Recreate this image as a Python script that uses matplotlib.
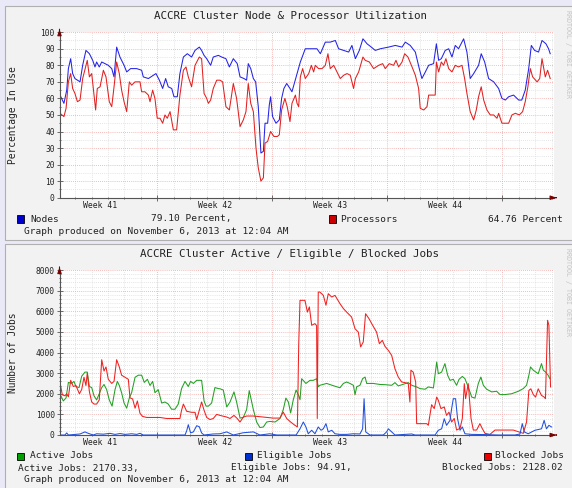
import matplotlib
matplotlib.use("Agg")
import matplotlib.pyplot as plt
import matplotlib.transforms as mtransforms
from matplotlib.patches import Rectangle
import numpy as np

W, H = 572, 488
plt.rcParams["font.family"] = ["DejaVu Sans Mono"]

# ---- time axis (days since start of graph) ----
week_numbers = [41, 42, 43, 44]
week_start = 5.95   # first week boundary, in days
x_end = 30.07

# ---- panel 1: node & processor utilization (percent) ----
node_days = [0.03, 0.27, 0.44, 0.54, 0.68, 0.80, 0.94, 1.25, 1.41, 1.61, 1.82, 2.02, 2.16, 2.26,
             2.42, 2.57, 2.77, 2.97, 3.18, 3.32, 3.48, 3.68, 3.93, 4.09, 4.33, 4.70, 5.00, 5.10,
             5.41, 5.71, 5.87, 6.08, 6.28, 6.46, 6.62, 6.83, 6.97, 7.17, 7.33, 7.54, 7.78, 8.04,
             8.25, 8.51, 8.65, 8.80, 8.96, 9.20, 9.36, 9.67, 9.87, 10.13, 10.34, 10.58, 10.82,
             10.99, 11.23, 11.39, 11.49, 11.64, 11.80, 11.94, 12.10, 12.26, 12.41, 12.51, 12.67,
             12.77, 12.85, 12.97, 13.18, 13.38, 13.52, 13.66, 13.83, 14.03, 14.15, 14.46, 14.66,
             14.96, 15.27, 15.67, 15.88, 16.18, 16.48, 16.79, 16.99, 17.30, 17.60, 17.80, 18.01,
             18.25, 18.47, 18.72, 18.98, 19.22, 19.53, 20.03, 20.44, 20.85, 21.05, 21.35, 21.66,
             21.90, 22.06, 22.27, 22.47, 22.77, 22.94, 23.08, 23.24, 23.48, 23.69, 23.89, 24.09,
             24.29, 24.60, 24.80, 25.00, 25.21, 25.51, 25.67, 25.88, 26.12, 26.43, 26.73, 26.93,
             27.14, 27.34, 27.64, 27.95, 28.14, 28.35, 28.56, 28.72, 28.92, 29.16, 29.37, 29.61,
             29.77, 29.87]
node_pct = [62, 57, 65, 78, 84, 75, 72, 70, 80, 89, 87, 83, 79, 82,
            79, 82, 81, 80, 78, 73, 91, 85, 80, 76, 78, 78, 77, 73,
            72, 74, 75, 71, 66, 72, 67, 66, 61, 61, 75, 85, 87, 85,
            89, 91, 89, 86, 84, 80, 85, 86, 85, 84, 79, 84, 81,
            73, 72, 71, 81, 78, 72, 70, 55, 27, 28, 45, 45,
            56, 61, 49, 45, 47, 60, 66, 69, 66, 64, 75, 82,
            90, 90, 90, 87, 94, 94, 95, 90, 89, 88, 92, 84,
            89, 96, 93, 91, 89, 90, 91, 92, 91, 94, 92, 88,
            78, 72, 76, 80, 81, 93, 83, 84, 89, 90, 85, 92,
            90, 96, 88, 72, 75, 80, 87, 82, 72, 70, 66, 60,
            59, 61, 62, 59, 59, 65, 78, 92, 89, 88, 95, 93,
            90, 87]

proc_days = [0.03, 0.27, 0.40, 0.54, 0.68, 0.80, 0.94, 1.09, 1.25, 1.41, 1.61, 1.69, 1.82, 1.96,
             2.10, 2.20, 2.30, 2.47, 2.67, 2.83, 3.03, 3.18, 3.32, 3.48, 3.64, 3.78, 3.93, 4.09,
             4.25, 4.39, 4.60, 4.90, 5.00, 5.20, 5.41, 5.51, 5.67, 5.81, 5.95, 6.12, 6.28, 6.42,
             6.56, 6.73, 6.93, 7.13, 7.33, 7.54, 7.70, 7.84, 8.04, 8.25, 8.51, 8.65, 8.80, 8.96,
             9.06, 9.20, 9.36, 9.57, 9.77, 9.93, 10.13, 10.34, 10.58, 10.78, 10.99, 11.19, 11.35,
             11.49, 11.64, 11.80, 11.96, 12.10, 12.26, 12.41, 12.51, 12.67, 12.85, 13.05, 13.26,
             13.38, 13.52, 13.72, 13.86, 14.03, 14.15, 14.36, 14.46, 14.56, 14.66, 14.80, 14.96,
             15.17, 15.33, 15.47, 15.57, 15.77, 15.98, 16.18, 16.34, 16.48, 16.69, 16.89, 17.09,
             17.30, 17.50, 17.70, 17.90, 18.01, 18.21, 18.47, 18.61, 18.86, 19.12, 19.43, 19.67,
             19.83, 20.07, 20.34, 20.48, 20.64, 20.85, 21.01, 21.21, 21.46, 21.66, 21.86, 21.96,
             22.17, 22.37, 22.47, 22.67, 22.87, 22.94, 23.08, 23.24, 23.38, 23.52, 23.69, 23.89,
             24.09, 24.29, 24.50, 24.66, 24.80, 25.00, 25.21, 25.37, 25.51, 25.67, 25.82, 26.02,
             26.22, 26.43, 26.63, 26.73, 26.93, 27.14, 27.34, 27.54, 27.75, 27.99, 28.19, 28.35,
             28.51, 28.66, 28.80, 29.07, 29.23, 29.37, 29.57, 29.71, 29.87]
proc_pct = [51, 49, 54, 70, 75, 66, 63, 58, 59, 72, 80, 83, 73, 75,
            62, 53, 66, 67, 77, 73, 58, 55, 67, 82, 75, 65, 58, 52,
            70, 68, 70, 70, 64, 64, 62, 58, 65, 60, 48, 48, 45, 50,
            48, 52, 41, 41, 62, 77, 79, 73, 67, 80, 85, 84, 63, 60,
            57, 59, 66, 71, 71, 70, 55, 53, 69, 60, 43, 47, 52,
            69, 57, 52, 30, 18, 10, 12, 33, 34, 40, 37, 37,
            38, 53, 60, 55, 46, 57, 62, 57, 55, 73, 78, 72,
            75, 80, 76, 80, 78, 78, 80, 87, 78, 80, 76, 72,
            74, 75, 74, 66, 72, 76, 85, 83, 82, 78, 80, 81,
            78, 81, 80, 83, 79, 82, 87, 85, 79, 74, 66, 54,
            53, 55, 62, 62, 62, 82, 76, 82, 80, 84, 78, 76,
            80, 79, 80, 72, 63, 52, 47, 53, 61, 67, 59, 53,
            50, 50, 48, 51, 45, 45, 45, 50, 51, 50, 52, 58,
            67, 78, 73, 70, 72, 84, 73, 77, 72]

# ---- panel 2: active / eligible / blocked jobs ----
active_days = [0.03, 0.23, 0.40, 0.54, 0.74, 0.88, 1.00, 1.19, 1.35, 1.55, 1.69, 1.82, 1.96, 2.10,
               2.26, 2.42, 2.57, 2.71, 2.87, 3.03, 3.20, 3.38, 3.52, 3.64, 3.78, 3.93, 4.09, 4.25,
               4.39, 4.60, 4.80, 5.00, 5.16, 5.35, 5.51, 5.67, 5.81, 6.01, 6.22, 6.42, 6.62, 6.82,
               7.03, 7.23, 7.43, 7.64, 7.84, 7.98, 8.15, 8.35, 8.65, 8.80, 8.92, 9.06, 9.26, 9.46,
               9.67, 9.77, 9.97, 10.18, 10.38, 10.62, 10.78, 10.99, 11.19, 11.39, 11.55, 11.80,
               12.00, 12.20, 12.41, 12.61, 12.81, 13.12, 13.42, 13.62, 13.78, 13.93, 14.07, 14.23,
               14.40, 14.54, 14.64, 14.74, 15.00, 15.25, 15.45, 15.65, 15.75, 15.85, 16.26, 16.67,
               17.07, 17.28, 17.48, 17.68, 17.89, 17.99, 18.09, 18.29, 18.45, 18.60, 18.70, 19.10,
               19.51, 19.81, 20.22, 20.42, 20.62, 21.03, 21.23, 21.44, 21.74, 21.94, 22.25, 22.45,
               22.76, 22.96, 23.06, 23.26, 23.46, 23.63, 23.77, 23.97, 24.17, 24.32, 24.52, 24.68,
               24.88, 25.09, 25.29, 25.49, 25.65, 25.80, 26.00, 26.31, 26.61, 26.81, 27.12, 27.52,
               27.93, 28.23, 28.43, 28.57, 28.67, 28.84, 29.14, 29.34, 29.45, 29.59, 29.75, 29.85]
active_jobs = [2000, 1650, 1800, 2550, 2500, 2600, 2350, 2300, 2850, 3050, 3050, 2350, 2300, 1900,
               1700, 2000, 2300, 2450, 2200, 1700, 1400, 2200, 2600, 2400, 2050, 1550, 1300, 1800,
               2050, 2800, 2900, 2900, 2550, 2700, 2400, 2600, 2050, 2200, 1550, 1600, 1500, 1250,
               1250, 1500, 2250, 2600, 2350, 2600, 2500, 2650, 2650, 1650, 1400, 1400, 1550, 2300,
               2250, 2240, 2180, 1360, 1600, 2090, 1600, 820, 860, 1230, 2150, 1230,
               630, 360, 390, 630, 660, 630, 800, 1230, 1790, 1600, 1070, 1710,
               2180, 1950, 1710, 2730, 2500, 2650, 2650, 2730, 2340, 2410, 2500, 2390,
               2290, 2500, 2570, 2500, 2410, 1950, 2340, 2410, 2730, 2810, 2500, 2500,
               2450, 2440, 2410, 2540, 2380, 2490, 2540, 2410, 2330, 2250, 2220, 2330,
               2280, 3540, 2970, 3050, 3460, 2890, 2650, 2700, 2410, 2700, 2840, 2730,
               2330, 1840, 1790, 2490, 2810, 2410, 2220, 2090, 2120, 1960, 1960, 2000,
               2120, 2250, 2410, 2890, 3300, 3140, 2970, 3460, 3140, 3050, 2890, 2730]

eligible_days = [0.03, 0.33, 0.44, 0.54, 1.25, 1.55, 1.69, 1.86, 2.06, 2.26, 2.67, 3.07, 3.38, 3.68,
                 3.99, 4.39, 4.70, 4.90, 5.10, 7.33, 7.64, 7.74, 7.84, 7.98, 8.15, 8.35, 8.51, 8.65,
                 8.80, 9.36, 9.77, 10.18, 10.58, 11.19, 11.80, 12.20, 12.81, 13.22, 13.83, 14.40,
                 14.64, 14.84, 15.00, 15.14, 15.35, 15.55, 15.75, 15.92, 16.06, 16.22, 16.36, 16.57,
                 16.77, 17.07, 17.48, 17.89, 18.29, 18.45, 18.54, 18.64, 18.90, 19.71, 19.91, 20.02,
                 20.22, 20.42, 21.44, 21.64, 22.86, 23.06, 23.26, 23.42, 23.56, 23.77, 23.87, 23.97,
                 24.11, 24.23, 24.38, 24.52, 24.68, 25.09, 25.90, 26.71, 27.72, 28.03, 28.17, 28.29,
                 28.53, 28.94, 29.34, 29.50, 29.64, 29.79, 29.95]
eligible_jobs = [0, 0, 100, 0, 50, 150, 100, 50, 0, 60, 40, 80, 30, 70,
                 30, 60, 30, 80, 0, 0, 0, 200, 500, 100, 150, 450, 400, 100,
                 0, 50, 60, 150, 0, 110, 150, 0, 60, 0, 0, 0,
                 300, 630, 390, 60, 230, 60, 390, 230, 300, 550, 150, 230,
                 60, 30, 30, 60, 50, 300, 1760, 150, 0, 0, 150, 300,
                 150, 0, 50, 0, 0, 230, 300, 790, 470, 710, 1280, 1760,
                 1760, 790, 230, 390, 60, 30, 20, 0, 0, 50, 550, 150,
                 60, 230, 300, 710, 300, 470, 390]

blocked_days = [0.03, 0.17, 0.33, 0.44, 0.54, 0.68, 0.84, 1.00, 1.21, 1.35, 1.49, 1.61, 1.69, 1.82,
                1.96, 2.10, 2.26, 2.42, 2.57, 2.71, 2.83, 2.97, 3.18, 3.32, 3.48, 3.64, 3.78, 3.99,
                4.19, 4.29, 4.45, 4.60, 4.74, 4.90, 5.06, 5.31, 5.71, 6.12, 6.52, 6.93, 7.33, 7.43,
                7.54, 7.74, 8.04, 8.25, 8.35, 8.51, 8.65, 8.80, 8.96, 9.16, 9.36, 9.57, 9.77, 10.18,
                10.38, 10.62, 10.82, 10.99, 11.19, 11.39, 11.80, 12.41, 13.01, 13.42, 13.62, 13.83,
                14.07, 14.33, 14.48, 14.56, 14.64, 14.94, 15.09, 15.21, 15.35, 15.55, 15.65, 15.69,
                15.75, 15.85, 16.06, 16.22, 16.36, 16.57, 16.77, 17.07, 17.28, 17.48, 17.78, 17.99,
                18.19, 18.33, 18.49, 18.63, 18.84, 19.06, 19.30, 19.47, 19.65, 19.81, 20.02, 20.22,
                20.42, 20.62, 20.83, 21.03, 21.23, 21.33, 21.39, 21.53, 21.68, 21.74, 22.04, 22.35,
                22.45, 22.65, 22.81, 22.96, 23.06, 23.22, 23.42, 23.56, 23.71, 23.87, 24.03, 24.17,
                24.38, 24.52, 24.64, 24.72, 24.88, 25.05, 25.19, 25.39, 25.59, 25.73, 25.90, 26.20,
                26.51, 27.12, 27.62, 27.93, 28.23, 28.43, 28.57, 28.69, 28.84, 28.98, 29.14, 29.34,
                29.50, 29.58, 29.71, 29.79, 29.89]
blocked_jobs = [2550, 1950, 1900, 2000, 1850, 2650, 2350, 2400, 2000, 2200, 2800, 2400, 3000, 2100,
                1600, 1500, 1500, 1700, 3650, 3100, 3300, 2700, 2500, 2600, 3650, 3300, 2900, 2800,
                2700, 1800, 1750, 1300, 1650, 1050, 900, 850, 850, 850, 800, 800, 800, 1200,
                1500, 1150, 1100, 1100, 750, 1200, 1600, 1200, 850, 750, 800, 1000, 950, 870,
                800, 950, 800, 630, 870, 920, 920, 870, 820, 820, 1110, 800,
                630, 470, 390, 4350, 6530, 6530, 5960, 6210, 5320, 5400, 5300, 800,
                6930, 6930, 6770, 6290, 6850, 6690, 6770, 6370, 6130, 5960, 5720, 5150,
                4990, 4270, 4510, 5880, 5640, 5320, 4990, 4430, 4590, 4300, 4100, 3860,
                3210, 2810, 2570, 2540, 2490, 1600, 3140, 3050, 2570, 550, 550, 550,
                470, 1470, 1280, 1840, 1680, 1280, 1360, 950, 1110, 630, 800, 240,
                320, 800, 2490, 1760, 2490, 800, 240, 240, 550, 320, 80, 30,
                240, 240, 240, 160, 80, 630, 2160, 2240, 1960, 1840, 2240, 1920,
                1840, 1760, 5560, 5320, 2330]


def fx(x):
    return x / W


def fy(y):
    return 1 - y / H


def style_axes(ax, ymax, ymajor, yminor):
    ax.set_facecolor("white")
    ax.set_xlim(0, x_end)
    ax.set_ylim(0, ymax)
    ax.set_xticks(week_start + 7 * np.arange(len(week_numbers)))
    ax.set_xticks(np.arange(week_start - 5, x_end, 1.0), minor=True)
    ax.set_yticks(np.arange(0, ymax + 1, ymajor))
    ax.set_yticks(np.arange(0, ymax + 1, yminor), minor=True)
    ax.set_axisbelow(True)
    ax.grid(which="minor", color="#dcdcdc", linestyle=(0, (1, 1.5)), linewidth=0.6)
    ax.grid(which="major", color="#f5a3a3", linestyle=(0, (1, 1.5)), linewidth=0.6)
    for side in ("top", "right"):
        ax.spines[side].set_visible(False)
    for side in ("left", "bottom"):
        ax.spines[side].set_color("#555555")
        ax.spines[side].set_linewidth(0.8)
    ax.tick_params(which="both", direction="inout", color="#555555", width=0.6)
    ax.tick_params(which="major", length=4)
    ax.tick_params(which="minor", length=2)
    ax.tick_params(axis="x", labelbottom=False)
    ax.tick_params(axis="y", labelsize=5.7, pad=1.5, labelcolor="#222222")
    trans = mtransforms.blended_transform_factory(ax.transData, ax.transAxes)
    for i, wk in enumerate(week_numbers):
        ax.text(week_start - 3.5 + 7 * i, -0.045, f"Week {wk}", transform=trans,
                ha="center", va="center", fontsize=5.9, color="#222222")
    arrow = dict(arrowstyle="-|>,head_width=0.12,head_length=0.35", color="#7a0000", lw=0.8)
    ax.annotate("", xy=(0, 1.035), xytext=(0, 1.0), xycoords="axes fraction", arrowprops=arrow)
    ax.annotate("", xy=(1.012, 0), xytext=(1.0, 0), xycoords="axes fraction", arrowprops=arrow)


def legend_box(fig, x, y, color):
    fig.add_artist(Rectangle((fx(x), fy(y + 3.5)), 6.5 / W, 7 / H, transform=fig.transFigure,
                             facecolor=color, edgecolor="black", linewidth=0.6))


fig = plt.figure(figsize=(W / 100, H / 100), dpi=100)
fig.patch.set_facecolor("#e9e9f7")

# panel backgrounds (behind the axes)
fig.add_artist(Rectangle((fx(5), fy(240)), 570 / W, 234 / H, transform=fig.transFigure,
                         facecolor="#f2f2f2", edgecolor="#b0b0b0", linewidth=0.8, zorder=-5))
fig.add_artist(Rectangle((fx(5), fy(492)), 570 / W, 248 / H, transform=fig.transFigure,
                         facecolor="#f2f2f2", edgecolor="#b0b0b0", linewidth=0.8, zorder=-5))

# ---- panel 1 ----
ax1 = fig.add_axes([fx(59.5), fy(197.7), 494 / W, 165.5 / H])
style_axes(ax1, 100, 10, 5)
ax1.plot(node_days, node_pct, color="#2323e6", linewidth=0.75)
ax1.plot(proc_days, proc_pct, color="#e12020", linewidth=0.75)

fig.text(fx(290), fy(16), "ACCRE Cluster Node & Processor Utilization", ha="center",
         va="center", fontsize=7.8, color="#222222")
fig.text(fx(13), fy(115), "Percentage In Use", rotation=90, ha="center", va="center",
         fontsize=6.9, color="#222222")
legend_box(fig, 17, 219, "#0000cc")
fig.text(fx(30), fy(219), "Nodes", va="center", fontsize=6.8, color="#222222")
fig.text(fx(151), fy(219), "79.10 Percent,", va="center", fontsize=6.8, color="#222222")
legend_box(fig, 329, 219, "#cc0000")
fig.text(fx(340), fy(219), "Processors", va="center", fontsize=6.8, color="#222222")
fig.text(fx(563), fy(219), "64.76 Percent", ha="right", va="center", fontsize=6.8,
         color="#222222")
fig.text(fx(24), fy(231), "Graph produced on November 6, 2013 at 12:04 AM", va="center",
         fontsize=6.8, color="#222222")
fig.text(fx(568), fy(54), "RRDTOOL / TOBI OETIKER", rotation=270, ha="center", va="center",
         fontsize=4.8, color="#c4c4c4")

# ---- panel 2 ----
ax2 = fig.add_axes([fx(59.5), fy(435), 494 / W, 165 / H])
style_axes(ax2, 8000, 1000, 200)
ax2.plot(active_days, active_jobs, color="#22a022", linewidth=0.75)
ax2.plot(blocked_days, blocked_jobs, color="#f02020", linewidth=0.75)
ax2.plot(eligible_days, eligible_jobs, color="#2050e0", linewidth=0.75)

fig.text(fx(290), fy(254), "ACCRE Cluster Active / Eligible / Blocked Jobs", ha="center",
         va="center", fontsize=7.8, color="#222222")
fig.text(fx(13), fy(353), "Number of Jobs", rotation=90, ha="center", va="center",
         fontsize=6.9, color="#222222")
legend_box(fig, 17, 456, "#00a000")
fig.text(fx(30), fy(456), "Active Jobs", va="center", fontsize=6.8, color="#222222")
legend_box(fig, 245, 456, "#0030d0")
fig.text(fx(257), fy(456), "Eligible Jobs", va="center", fontsize=6.8, color="#222222")
legend_box(fig, 484, 456, "#ee0000")
fig.text(fx(495), fy(456), "Blocked Jobs", va="center", fontsize=6.8, color="#222222")
fig.text(fx(18), fy(468), "Active Jobs: 2170.33,", va="center", fontsize=6.8, color="#222222")
fig.text(fx(231), fy(468), "Eligible Jobs: 94.91,", va="center", fontsize=6.8, color="#222222")
fig.text(fx(563), fy(468), "Blocked Jobs: 2128.02", ha="right", va="center", fontsize=6.8,
         color="#222222")
fig.text(fx(24), fy(480), "Graph produced on November 6, 2013 at 12:04 AM", va="center",
         fontsize=6.8, color="#222222")
fig.text(fx(568), fy(292), "RRDTOOL / TOBI OETIKER", rotation=270, ha="center", va="center",
         fontsize=4.8, color="#c4c4c4")

fig.savefig("out.png", dpi=100, facecolor=fig.get_facecolor())
